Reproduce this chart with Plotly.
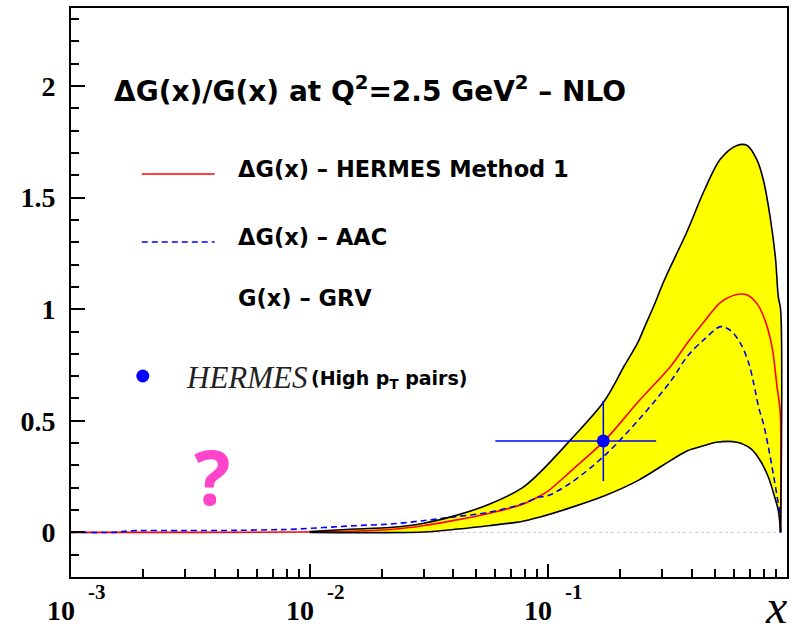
import math
import plotly.graph_objects as go

# ---- data -------------------------------------------------------------
# upper edge of the uncertainty band (HERMES Method 1)
band_up_x = [0.01, 0.0155, 0.0216, 0.0297, 0.0408, 0.0562, 0.0774, 0.0909, 0.125,
             0.172, 0.209, 0.237, 0.253, 0.278, 0.306, 0.383, 0.45, 0.527, 0.617,
             0.681, 0.75, 0.797, 0.85, 0.894, 0.92, 0.94, 0.94]
band_up_y = [0.004, 0.015, 0.022, 0.04, 0.075, 0.125, 0.198, 0.262, 0.419,
             0.59, 0.75, 0.85, 0.92, 1.02, 1.13, 1.353, 1.532, 1.674, 1.734,
             1.734, 1.667, 1.577, 1.413, 1.233, 1.054, 1.0, 0.0]
# lower edge of the uncertainty band
band_lo_x = [0.01, 0.03, 0.0418, 0.0562, 0.0774, 0.0909, 0.125, 0.172, 0.237,
             0.327, 0.383, 0.45, 0.505, 0.617, 0.707, 0.773, 0.836, 0.88, 0.92, 0.94]
band_lo_y = [0.0, 0.002, 0.015, 0.03, 0.049, 0.067, 0.112, 0.164, 0.232,
             0.324, 0.366, 0.389, 0.404, 0.404, 0.374, 0.321, 0.247, 0.172, 0.097, 0.0]

# ΔG/G, HERMES Method 1 central curve
hermes_x = [0.001, 0.015, 0.023, 0.0297, 0.0408, 0.0562, 0.0774, 0.0909, 0.1, 0.125,
            0.172, 0.237, 0.327, 0.383, 0.45, 0.527, 0.617, 0.681, 0.75, 0.81,
            0.866, 0.909, 0.933, 0.94, 0.94]
hermes_y = [0.0, 0.005, 0.015, 0.03, 0.055, 0.085, 0.125, 0.16, 0.186, 0.277,
            0.411, 0.583, 0.747, 0.85, 0.945, 1.031, 1.066, 1.064, 1.024, 0.949,
            0.83, 0.65, 0.56, 0.5, 0.0]

# ΔG/G, AAC
aac_x = [0.001, 0.0015, 0.0018, 0.003, 0.005, 0.007, 0.0082, 0.0155, 0.0216,
         0.0297, 0.0408, 0.0562, 0.0774, 0.0909, 0.1, 0.125, 0.172, 0.237, 0.327,
         0.383, 0.45, 0.527, 0.581, 0.64, 0.693, 0.726, 0.761, 0.797, 0.836,
         0.876, 0.91, 0.933, 0.94]
aac_y = [0.0, 0.0, 0.007, 0.008, 0.009, 0.012, 0.013, 0.03, 0.037,
         0.052, 0.07, 0.09, 0.127, 0.157, 0.165, 0.224, 0.344, 0.5, 0.68,
         0.79, 0.865, 0.922, 0.904, 0.845, 0.755, 0.665, 0.56, 0.486, 0.381,
         0.262, 0.157, 0.082, 0.0]

# HERMES high-pT pairs measurement
meas_x = [0.17]
meas_y = [0.41]
meas_xerr_lo = [0.11]
meas_xerr_hi = [0.113]
meas_yerr = [0.18]

x_tick_vals = [0.001, 0.01, 0.1]
x_tick_exps = ["-3", "-2", "-1"]
y_tick_vals = [0, 0.5, 1, 1.5, 2]
y_tick_text = ["<b>0</b>", "<b>0.5</b>", "<b>1</b>", "<b>1.5</b>", "<b>2</b>"]

# ---- figure -----------------------------------------------------------
W, H = 793, 632
L, R, T, B = 71, 4, 8, 55
PW, PH = W - L - R, H - T - B


def px(xpix):
    return (xpix - L) / PW


def py(ypix):
    return (H - B - ypix) / PH


fig = go.Figure()

# zero reference line
fig.add_trace(go.Scatter(x=[0.001, 0.94], y=[0, 0], mode="lines",
                         line=dict(color="#c8c8c8", width=1, dash="dot"),
                         hoverinfo="skip"))

# yellow band
poly_x = band_up_x + band_lo_x[::-1]
poly_y = band_up_y + band_lo_y[::-1]
fig.add_trace(go.Scatter(x=poly_x, y=poly_y, mode="lines", fill="toself",
                         fillcolor="#ffff00",
                         line=dict(width=0, shape="spline", smoothing=0.9),
                         hoverinfo="skip"))

# central curves
fig.add_trace(go.Scatter(x=hermes_x, y=hermes_y, mode="lines",
                         line=dict(color="#ff0000", width=1.6, shape="spline", smoothing=0.9)))
fig.add_trace(go.Scatter(x=aac_x, y=aac_y, mode="lines",
                         line=dict(color="#0000ff", width=1.6, dash="6px,4px",
                                   shape="spline", smoothing=0.9)))

# band outlines
fig.add_trace(go.Scatter(x=band_up_x, y=band_up_y, mode="lines",
                         line=dict(color="black", width=1.6, shape="spline", smoothing=0.9)))
fig.add_trace(go.Scatter(x=band_lo_x, y=band_lo_y, mode="lines",
                         line=dict(color="black", width=1.6, shape="spline", smoothing=0.9)))

# measurement
fig.add_trace(go.Scatter(
    x=meas_x, y=meas_y, mode="markers",
    marker=dict(color="#0000ff", size=13),
    error_x=dict(type="data", symmetric=False, array=meas_xerr_hi,
                 arrayminus=meas_xerr_lo, color="#0000ff", thickness=1.5, width=0),
    error_y=dict(type="data", array=meas_yerr, color="#0000ff",
                 thickness=1.5, width=0)))

# ---- legend (drawn by hand) --------------------------------------------
legend_font = dict(family="DejaVu Sans", size=22.5, color="black")
shapes = [
    dict(type="line", xref="paper", yref="paper", x0=px(142), x1=px(215),
         y0=py(174), y1=py(174), line=dict(color="#ff0000", width=1.6)),
    dict(type="line", xref="paper", yref="paper", x0=px(142), x1=px(215),
         y0=py(242), y1=py(242), line=dict(color="#0000ff", width=1.6, dash="6px,4px")),
    dict(type="circle", xref="paper", yref="paper", x0=px(136.5), x1=px(149.5),
         y0=py(369.5), y1=py(382.5), fillcolor="#0000ff", line=dict(width=0)),
]

annotations = [
    dict(text="<b>ΔG(x)/G(x) at Q<sup>2</sup>=2.5 GeV<sup>2</sup> – NLO</b>",
         x=px(112), y=py(90), xanchor="left", yanchor="middle",
         font=dict(family="DejaVu Sans", size=28, color="black")),
    dict(text="<b>ΔG(x) – HERMES Method 1</b>", x=px(236), y=py(169),
         xanchor="left", yanchor="middle", font=legend_font),
    dict(text="<b>ΔG(x) – AAC</b>", x=px(236), y=py(237),
         xanchor="left", yanchor="middle", font=legend_font),
    dict(text="<b>G(x) – GRV</b>", x=px(236), y=py(298),
         xanchor="left", yanchor="middle", font=legend_font),
    dict(text="<i>HERMES</i>", x=px(184), y=py(377), xanchor="left", yanchor="middle",
         font=dict(family="Liberation Serif", size=31, color="#222222")),
    dict(text="<b>(High p<sub>T</sub> pairs)</b>", x=px(310), y=py(379),
         xanchor="left", yanchor="middle",
         font=dict(family="DejaVu Sans", size=19, color="black")),
    dict(text="<b>?</b>", x=px(212), y=py(475), xanchor="center", yanchor="middle",
         font=dict(family="Noto Sans", size=76, color="#ff44cc")),
    dict(text="<i>x</i>", x=px(778), y=py(606), xanchor="center", yanchor="middle",
         font=dict(family="Liberation Serif", size=48, color="black")),
]
for a in annotations:
    a.update(xref="paper", yref="paper", showarrow=False)

# decade labels on the x axis: mantissa and raised exponent
label_font = dict(family="Liberation Serif", size=28, color="black")
exp_font = dict(family="Liberation Serif", size=21, color="black")
for v, e in zip(x_tick_vals, x_tick_exps):
    annotations.append(dict(text="<b>10</b>", x=math.log10(v), xref="x", xshift=-10,
                            y=py(610), yref="paper", xanchor="center", yanchor="middle",
                            showarrow=False, font=label_font))
    annotations.append(dict(text="<b>" + e + "</b>", x=math.log10(v), xref="x", xshift=26,
                            y=py(592), yref="paper", xanchor="center", yanchor="middle",
                            showarrow=False, font=exp_font))

tick_font = dict(family="Liberation Serif", size=28, color="black")

fig.update_layout(
    width=W, height=H,
    margin=dict(l=L, r=R, t=T, b=B),
    paper_bgcolor="white", plot_bgcolor="white",
    showlegend=False,
    shapes=shapes,
    annotations=annotations,
    xaxis=dict(
        type="log", range=[-3, 0], showgrid=False, zeroline=False,
        showline=True, linecolor="black", linewidth=2, mirror=True,
        ticks="inside", ticklen=13, tickwidth=1.5, tickcolor="black",
        tickvals=x_tick_vals, ticktext=["", "", ""], tickfont=tick_font,
        minor=dict(ticks="inside", ticklen=8, tickwidth=1.5, tickcolor="black",
                   tickvals=[m * 10 ** e for e in (-3, -2, -1) for m in range(2, 10)]),
    ),
    yaxis=dict(
        range=[-0.2, 2.35], showgrid=False, zeroline=False,
        showline=True, linecolor="black", linewidth=2, mirror=True,
        ticks="inside", ticklen=14, tickwidth=1.5, tickcolor="black",
        tickvals=y_tick_vals, ticktext=y_tick_text, tickfont=tick_font,
        ticklabelstandoff=8,
        minor=dict(ticks="inside", ticklen=8, tickwidth=1.5, tickcolor="black",
                   dtick=0.1, tick0=0),
    ),
)

fig.write_html("out.html")
